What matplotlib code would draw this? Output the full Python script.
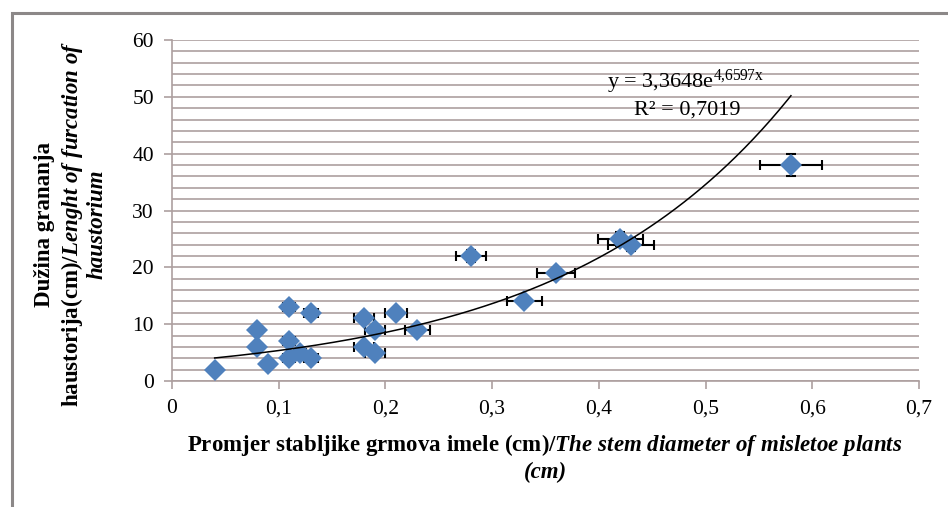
import numpy as np
import matplotlib
matplotlib.use('Agg')
import matplotlib.pyplot as plt
from matplotlib.patches import Rectangle
from matplotlib.ticker import FuncFormatter, MultipleLocator

plt.rcParams['font.family'] = 'Liberation Serif'
plt.rcParams['mathtext.fontset'] = 'custom'
plt.rcParams['mathtext.rm'] = 'Liberation Serif'
plt.rcParams['mathtext.bf'] = 'Liberation Serif:bold'
plt.rcParams['mathtext.it'] = 'Liberation Serif:bold:italic'

# stem diameter (cm) vs length of furcation (cm)
diam = [0.04, 0.08, 0.08, 0.09, 0.11, 0.11, 0.11, 0.12, 0.13, 0.13,
        0.18, 0.18, 0.19, 0.19, 0.21, 0.23, 0.28, 0.33, 0.36, 0.42, 0.43, 0.58]
length = [2, 9, 6, 3, 13, 7, 4, 5, 12, 4,
          11, 6, 9, 5, 12, 9, 22, 14, 19, 25, 24, 38]
# 5% error bars (excel style)
diam_err = [0.002, 0.004, 0.004, 0.0045, 0.0055, 0.0055, 0.0055, 0.006, 0.0065, 0.0065,
            0.009, 0.009, 0.0095, 0.0095, 0.0105, 0.0115, 0.014, 0.0165, 0.018, 0.021, 0.0215, 0.029]
length_err = [0.1, 0.45, 0.3, 0.15, 0.65, 0.35, 0.2, 0.25, 0.6, 0.2,
              0.55, 0.3, 0.45, 0.25, 0.6, 0.45, 1.1, 0.7, 0.95, 1.25, 1.2, 1.9]

# exponential trendline y = a*e^(b*x)
fit_a = 3.3648
fit_b = 4.6597
fit_r2 = '0,7019'

grid_col = '#ad9f9f'

fig = plt.figure(figsize=(9.48, 5.07), dpi=100)
fig.patches.append(Rectangle((0.0127, -0.02), 1.0, 0.994, transform=fig.transFigure,
                             fill=False, edgecolor='#8c8888', linewidth=2.2))
ax = fig.add_axes([0.1814, 0.2485, 0.7880, 0.6726])

ax.errorbar(diam, length, xerr=diam_err, yerr=length_err, fmt='none',
            ecolor='black', elinewidth=1.5, capsize=3.5, capthick=1.5, zorder=3)
ax.plot(diam, length, 'D', color='#4f81bd', markersize=11, markeredgewidth=0, zorder=4)

xs = np.linspace(min(diam), max(diam), 200)
ax.plot(xs, fit_a * np.exp(fit_b * xs), color='black', linewidth=1.1, zorder=5)

ax.text(0.481, 52.6, r'y = 3,3648e$^{\mathrm{4{,}6597x}}$', fontsize=16, ha='center', va='center')
ax.text(0.483, 47.7, 'R² = ' + fit_r2, fontsize=16, ha='center', va='center')

ax.set_xlim(0, 0.7)
ax.set_ylim(0, 60)
ax.xaxis.set_major_locator(MultipleLocator(0.1))
ax.yaxis.set_major_locator(MultipleLocator(10))
ax.yaxis.set_minor_locator(MultipleLocator(2))
ax.xaxis.set_major_formatter(FuncFormatter(lambda v, p: '0' if abs(v) < 1e-9 else ('%.1f' % v).replace('.', ',')))
ax.yaxis.set_major_formatter(FuncFormatter(lambda v, p: '%d' % v))
ax.grid(True, which='both', axis='y', color=grid_col, linewidth=1.2)
ax.set_axisbelow(True)
for s in ['top', 'right']:
    ax.spines[s].set_visible(False)
for s in ['left', 'bottom']:
    ax.spines[s].set_color(grid_col)
    ax.spines[s].set_linewidth(1.2)
ax.tick_params(which='major', direction='out', length=6, color=grid_col, width=1.2,
               labelsize=15.5, pad=7)
ax.tick_params(which='minor', length=0)

# x axis title, two lines
fig.text(0.575, 0.122,
         r'$\mathbf{Promjer\ stabljike\ grmova\ imele\ (cm)/}\mathit{The\ stem\ diameter\ of\ misletoe\ plants}$',
         ha='center', va='center', fontsize=16.5)
fig.text(0.575, 0.069, '(cm)', ha='center', va='center', fontsize=16.5,
         fontweight='bold', fontstyle='italic')

# y axis title, three lines
fig.text(0.047, 0.558, 'Dužina grananja', ha='center', va='center', rotation=90,
         fontsize=16.5, fontweight='bold')
fig.text(0.076, 0.558, r'$\mathbf{haustorija(cm)/}\mathit{Lenght\ of\ furcation\ of}$',
         ha='center', va='center', rotation=90, fontsize=16.5)
fig.text(0.102, 0.558, 'haustorium', ha='center', va='center', rotation=90,
         fontsize=16.5, fontweight='bold', fontstyle='italic')

fig.savefig('out.png', dpi=100)
